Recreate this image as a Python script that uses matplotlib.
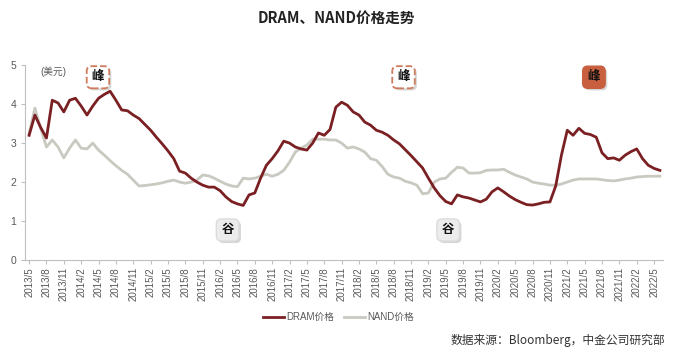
import matplotlib
matplotlib.use("Agg")
import matplotlib.pyplot as plt
import matplotlib.patheffects as pe

plt.rcParams['font.family'] = ['Liberation Sans', 'Noto Sans CJK SC', 'DejaVu Sans']

# monthly, 2013/5 .. 2022/6
months = [f"{2013 + (4 + i) // 12}/{(4 + i) % 12 + 1}" for i in range(110)]

dram = [3.20, 3.72, 3.40, 3.13, 4.10, 4.03, 3.80, 4.10, 4.15, 3.95,
        3.72, 3.95, 4.15, 4.25, 4.33, 4.10, 3.85, 3.83, 3.72, 3.63,
        3.48, 3.33, 3.15, 2.98, 2.80, 2.60, 2.28, 2.23, 2.10, 2.00,
        1.92, 1.87, 1.87, 1.78, 1.62, 1.50, 1.44, 1.40, 1.67, 1.72,
        2.10, 2.43, 2.60, 2.80, 3.05, 3.00, 2.90, 2.85, 2.82, 3.00,
        3.26, 3.20, 3.35, 3.92, 4.05, 3.97, 3.80, 3.72, 3.54, 3.46,
        3.33, 3.28, 3.20, 3.08, 2.98, 2.83, 2.68, 2.52, 2.36, 2.10,
        1.85, 1.65, 1.50, 1.44, 1.67, 1.62, 1.59, 1.54, 1.49, 1.56,
        1.75, 1.85, 1.75, 1.64, 1.55, 1.48, 1.42, 1.41, 1.44, 1.48,
        1.49, 1.90, 2.70, 3.33, 3.20, 3.38, 3.25, 3.22, 3.15, 2.75,
        2.60, 2.62, 2.56, 2.69, 2.78, 2.85, 2.60, 2.43, 2.35, 2.30]

nand = [3.25, 3.90, 3.38, 2.90, 3.08, 2.90, 2.62, 2.87, 3.08, 2.87,
        2.85, 3.00, 2.82, 2.69, 2.55, 2.42, 2.30, 2.20, 2.05, 1.90,
        1.91, 1.93, 1.95, 1.98, 2.02, 2.05, 2.00, 1.97, 2.00, 2.05,
        2.18, 2.16, 2.10, 2.02, 1.95, 1.90, 1.88, 2.10, 2.08, 2.10,
        2.15, 2.20, 2.15, 2.20, 2.30, 2.51, 2.77, 2.87, 2.95, 3.10,
        3.10, 3.10, 3.08, 3.08, 3.00, 2.87, 2.90, 2.85, 2.77, 2.60,
        2.56, 2.40, 2.20, 2.13, 2.10, 2.02, 1.98, 1.92, 1.70, 1.72,
        2.00, 2.08, 2.10, 2.25, 2.38, 2.36, 2.23, 2.23, 2.24, 2.30,
        2.31, 2.31, 2.33, 2.25, 2.18, 2.13, 2.08, 2.00, 1.97, 1.95,
        1.92, 1.92, 1.95, 2.00, 2.05, 2.08, 2.08, 2.08, 2.08, 2.06,
        2.04, 2.03, 2.05, 2.08, 2.10, 2.13, 2.14, 2.15, 2.15, 2.15]

# (label, month index, value, style)
marks = [("峰", 11.9, 4.69, "dash"), ("峰", 64.7, 4.69, "dash"),
         ("峰", 97.6, 4.69, "fill"), ("谷", 34.3, 0.77, "grey"),
         ("谷", 72.4, 0.77, "grey")]

fig = plt.figure(figsize=(6.77, 3.52), dpi=100)
ax = fig.add_axes([0.037, 0.2614, 0.942, 0.5535])

x = list(range(len(months)))
ax.plot(x, nand, color='#c9c9c1', lw=2.0, label='NAND价格', zorder=2)
ax.plot(x, dram, color='#7a1f22', lw=2.0, label='DRAM价格', zorder=3)

ax.set_xlim(-0.7, 109.5)
ax.set_ylim(0, 5)
ax.set_yticks(range(6))
ax.set_xticks(x[::3])
ax.set_xticklabels(months[::3], rotation=90, fontsize=7, color='#595959')
ax.tick_params(axis='y', labelsize=7.5, labelcolor='#595959', length=3,
               color='#bfbfbf')
ax.tick_params(axis='x', length=3, color='#bfbfbf', pad=2)
for s in ('top', 'right'):
    ax.spines[s].set_visible(False)
for s in ('left', 'bottom'):
    ax.spines[s].set_color('#bfbfbf')

ax.text(2.0, 4.83, '(美元)', fontsize=7, color='#595959', va='center')

# peak / trough markers, box with a soft shadow
for label, mx, my, style in marks:
    if style == "dash":
        box = dict(boxstyle='round,pad=0.4', fc='white', ec='#cf7c5e',
                   ls='--', lw=1.3)
    elif style == "fill":
        box = dict(boxstyle='round,pad=0.4', fc='#c8603f', ec='#c8603f',
                   lw=1.0)
    else:
        box = dict(boxstyle='round,pad=0.4', fc='#ececec', ec='#dcdcdc',
                   lw=1.0)
    t = ax.text(mx, my, label, fontsize=9, fontweight='bold', ha='center',
                va='center', color='#111111', bbox=box, zorder=5)
    t.get_bbox_patch().set_path_effects([
        pe.SimplePatchShadow(offset=(1.5, -1.5), shadow_rgbFace='#bbbbbb',
                             alpha=0.6),
        pe.Normal()])

fig.text(0.497, 0.95, 'DRAM、NAND价格走势', ha='center', va='center',
         fontsize=10.5, fontweight='bold', color='#222222',
         family=['Noto Sans CJK SC', 'DejaVu Sans'])

handles, labels = ax.get_legend_handles_labels()
fig.legend(handles[::-1], labels[::-1], loc='center', ncol=2,
           bbox_to_anchor=(0.5, 0.099), frameon=False, fontsize=7,
           handlelength=2.2, handletextpad=0.2, columnspacing=1.0,
           labelcolor='#595959')

fig.text(0.982, 0.034, '数据来源：Bloomberg，中金公司研究部', ha='right',
         va='center', fontsize=8.5, color='#333333',
         family=['Noto Sans CJK SC', 'DejaVu Sans'])

fig.savefig('out.png', dpi=100)
